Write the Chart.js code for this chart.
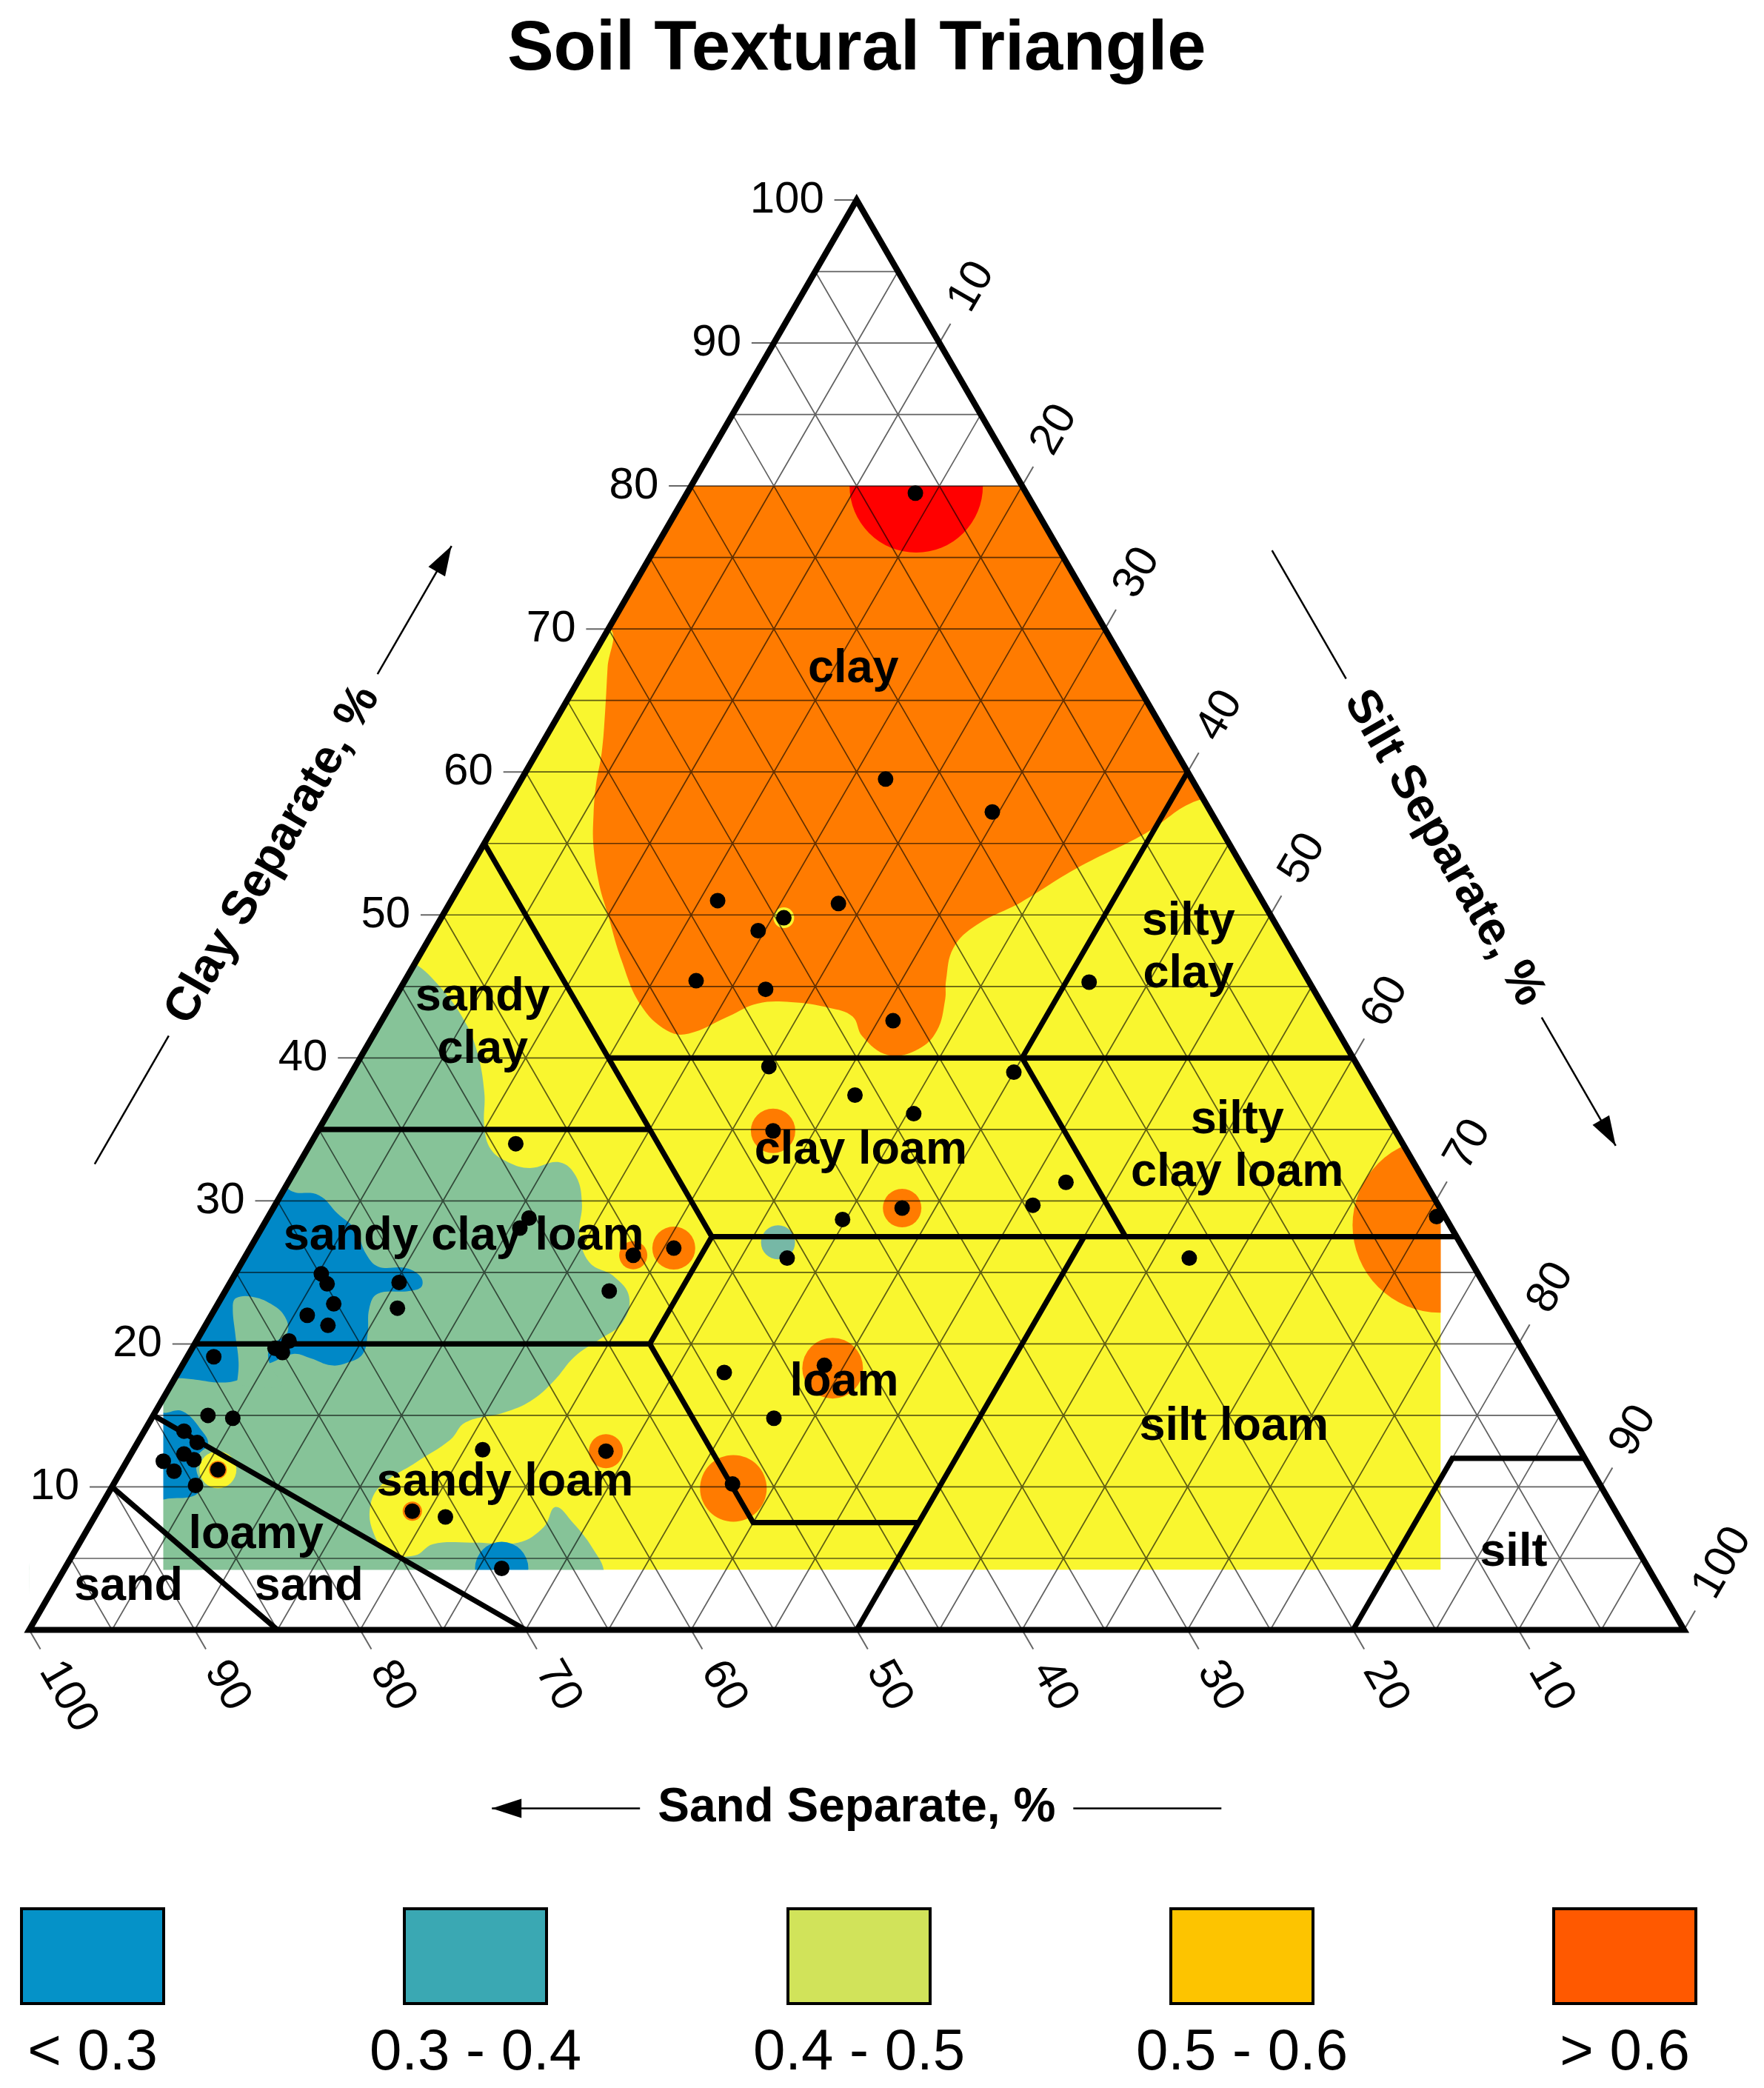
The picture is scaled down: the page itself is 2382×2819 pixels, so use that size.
<!DOCTYPE html>
<html>
<head>
<meta charset="utf-8">
<title>Soil Textural Triangle</title>
<script src="https://cdn.jsdelivr.net/npm/chart.js@4.4.1/dist/chart.umd.min.js"></script>
<style>
  body { margin: 0; background: #fff; }
  #wrap { position: relative; width: 2382px; height: 2819px; }
  #legend { position: absolute; left: 0; top: 2575px; width: 2382px; font-family: "Liberation Sans", Arial, sans-serif; }
  .item { position: absolute; top: 0; width: 300px; text-align: center; }
  .swatch { width: 188px; height: 124px; border: 4px solid #000; margin: 0 auto; }
  .item span { display: block; font-size: 78px; line-height: 1; margin-top: 21px; color: #000; }
</style>
</head>
<body>
<div id="wrap">
  <canvas id="triangle" width="2382" height="2819"></canvas>
  <div id="legend"></div>
</div>
<script>
// every point is [silt %, clay %]; sand is the rest up to 100
var sampleSilt = [13.8, 22.0, 29.6, 16.1, 23.5, 20.7, 19.6, 17.6, 22.1, 30.9, 41.4, 25.0, 40.0, 31.2, 35.4, 27.5, 12.4, 47.0, 45.8, 38.0,
                  34.8, 25.6, 23.4, 32.8, 23.2, 33.0, 38.8, 37.6, 28.6, 37.4, 57.1, 70.6, 15.8, 15.6, 5.2, 5.9, 10.2, 7.0, 5.8, 7.4,
                  11.0, 5.0, 5.6, 5.6, 1.6, 3.3, 4.9, 2.4, 3.6, 2.2, 3.2, 3.2, 4.0, 5.8, 5.0, 21.1, 19.0, 21.2, 26.4];
var sampleClay = [79.5, 59.5, 57.2, 51.0, 50.8, 49.8, 48.9, 45.4, 44.8, 42.6, 45.3, 39.4, 39.0, 37.4, 36.1, 34.9, 34.0, 31.3, 29.7, 29.5,
                  28.7, 26.7, 26.2, 26.0, 23.7, 18.0, 18.5, 14.8, 12.5, 10.2, 26.0, 28.9, 28.8, 28.1, 24.9, 24.2, 24.3, 22.8, 22.0, 21.3,
                  22.5, 19.7, 20.2, 19.4, 19.1, 15.0, 14.8, 13.9, 13.1, 11.8, 12.3, 11.1, 11.9, 11.2, 10.1, 12.6, 8.3, 7.9, 4.3];

var tickValues = [10, 20, 30, 40, 50, 60, 70, 80, 90, 100];
var gridLevels = [5, 10, 15, 20, 25, 30, 35, 40, 45, 50, 55, 60, 65, 70, 75, 80, 85, 90, 95];

// interpolated map, 0.4 - 0.5 band covers the sampled part of the triangle
var zoneMid = [[6.0, 4.2], [0, 16.2], [0, 80], [20, 80], [70.6, 29.4], [83.2, 4.2], [6.0, 4.2]];
// > 0.6 band in the clay corner
var zoneHigh = [[-12, 84], [-3, 70], [0.1, 70], [1.3, 67.3], [2.7, 64.2], [3.9, 61.4], [4.7, 59.1], [5.6, 57.0], [6.7, 54.8], [8.4, 52.1],
                [9.9, 50.1], [12.4, 46.8], [15.1, 43.7], [17.6, 41.9], [19.0, 41.7], [20.8, 42.9], [22.1, 43.8], [24.1, 43.9], [26.6, 43.5],
                [28.3, 42.9], [29.6, 41.5], [31.8, 40.2], [33.4, 40.6], [33.9, 41.9], [33.3, 44.1], [32.7, 45.4], [32.0, 47.7], [32.6, 49.3],
                [34.5, 50.9], [36.7, 53.3], [39.6, 55.7], [41.6, 58.0], [48, 60], [30, 84], [-12, 84]];
// 0.3 - 0.4 band on the sandy side
var zoneLow = [[-5, 49], [0, 46.6], [2.3, 45.0], [4.9, 42.7], [6.8, 40.5], [8.7, 37.6], [9.9, 35.2], [11.1, 33.6], [12.6, 32.7], [14.1, 32.3],
               [15.7, 32.7], [17.2, 31.7], [18.5, 29.8], [19.4, 27.7], [21.0, 25.7], [23.0, 24.7], [24.6, 23.3], [25.1, 21.5], [24.3, 20.3],
               [23.4, 19.1], [23.0, 17.4], [22.3, 16.0], [21.1, 15.2], [19.1, 14.5], [18.8, 13.3], [17.5, 11.7], [16.2, 10.1], [16.3, 8.6],
               [17.4, 6.8], [19.0, 5.4], [20.7, 5.2], [21.4, 6.0], [23.8, 6.1], [26.5, 6.1], [27.5, 7.2], [27.5, 8.6], [29.1, 7.5],
               [31.2, 5.7], [32.8, 3.9], [36, -3], [4, -3], [-6, 18], [-5, 49]];
var zoneLowTongue = [[4.0, 17.1], [3.3, 18.7], [2.1, 20.7], [1.0, 22.6], [0.9, 23.2], [1.8, 23.3], [3.2, 22.8], [4.5, 21.9], [5.2, 20.8],
                     [4.8, 20.1], [4.7, 19.5], [5.4, 18.4], [6.7, 17.1], [4.0, 17.1]];
// < 0.3 patches
var zoneLowest = [[-7, 36], [0.3, 30.8], [2.3, 30.4], [4.1, 29.1], [5.7, 28.0], [7.2, 26.3], [8.4, 25.4], [10.1, 25.3], [11.3, 24.7],
                  [11.7, 24.0], [11.1, 23.7], [9.3, 23.5], [9.3, 22.5], [10.1, 20.7], [10.5, 19.3], [9.9, 18.7], [9.0, 18.5], [7.5, 19.0],
                  [6.3, 19.3], [5.3, 18.7], [4.6, 18.3], [3.9, 17.5], [2.9, 17.3], [1.3, 17.5], [0.3, 17.6], [-4, 17.6], [-7, 36]];
var zoneLowestSand = [[-0.7, 15.8], [0.4, 15.2], [1.6, 15.3], [3.5, 13.9], [4.3, 13.0], [4.1, 12.2], [4.5, 11.2], [5.3, 10.1], [5.3, 9.4],
                      [3.9, 9.2], [2.6, 9.2], [-0.7, 15.8]];

// small spots round single samples
var spotsHigh = [[27.5, 34.9], [38.0, 29.5], [25.6, 26.7], [23.4, 26.2], [39.4, 18.3], [37.6, 9.9], [28.6, 12.5], [19.0, 8.3], [5.8, 11.2], [71.1, 28.3]];
var spotsTop = [[13.6, 80]];
var spotsMid = [[5.8, 11.2], [20.7, 49.8]];
var spotsLow = [[31.7, 27.1]];
var spotsLowest = [[26.4, 4.3]];

// USDA class borders
var classBorders = [
  [[15, 0], [0, 10]],
  [[30, 0], [0, 15]],
  [[0, 20], [27.5, 20]],
  [[27.5, 27.5], [27.5, 20], [40, 7.5], [50, 7.5]],
  [[50, 27.5], [50, 0]],
  [[80, 0], [80, 12], [88, 12]],
  [[27.5, 27.5], [72.5, 27.5]],
  [[0, 35], [20, 35]],
  [[0, 55], [27.5, 27.5]],
  [[15, 40], [60, 40]],
  [[40, 40], [52.5, 27.5]],
  [[40, 40], [40, 60]]
];
var classNames = ['clay', 'silty\nclay', 'sandy\nclay', 'silty\nclay loam', 'clay loam', 'sandy clay loam', 'loam', 'silt loam', 'sandy loam', 'loamy', 'sand', 'sand', 'silt'];
var classSilt = [16.2, 46.2, 6.2, 56.1, 33.5, 12.5, 40.6, 65.7, 23.6, 10.4, 15.4, 4.5, 87.0];
var classClay = [67.2, 47.7, 42.4, 33.8, 33.5, 27.5, 17.3, 14.2, 10.3, 6.6, 3.0, 3.0, 5.4];

var legendLabels = ['< 0.3', '0.3 - 0.4', '0.4 - 0.5', '0.5 - 0.6', '> 0.6'];
var legendColors = ['#0592c8', '#3aa8b3', '#d1e35a', '#fdc400', '#ff5900'];

var FONT = '"Liberation Sans", Arial, Helvetica, sans-serif';
var tickLen = 1.35;

function tp(silt, clay) {
    return { x: silt + clay / 2, y: clay };
}
function poly(pairs) {
    return pairs.map(function (p) { return tp(p[0], p[1]); });
}
function segs(lines) {
    var out = [];
    lines.forEach(function (l, i) {
        if (i) out.push({ x: null, y: null });
        l.forEach(function (p) { out.push(tp(p[0], p[1])); });
    });
    return out;
}
function area(pairs, color, tension) {
    return { data: poly(pairs), showLine: true, fill: 'shape', backgroundColor: color, borderWidth: 0, pointRadius: 0, tension: tension };
}
function spots(pairs, sizes, color) {
    return { data: poly(pairs), showLine: false, pointRadius: sizes, pointHoverRadius: sizes, pointBackgroundColor: color, pointBorderWidth: 0 };
}
function strokes(lines, color, width, clip) {
    var d = { data: segs(lines), showLine: true, fill: false, borderColor: color, borderWidth: width, pointRadius: 0, tension: 0, spanGaps: false };
    if (clip === false) d.clip = false;
    return d;
}

var gridLines = [], tickLines = [];
gridLevels.forEach(function (k) {
    gridLines.push([[0, k], [100 - k, k]]);
    gridLines.push([[k, 0], [k, 100 - k]]);
    gridLines.push([[100 - k, 0], [0, 100 - k]]);
});
tickValues.forEach(function (v) {
    tickLines.push([[0, v], [-tickLen, v]]);
    tickLines.push([[v, 100 - v], [v, 100 - v + tickLen]]);
    tickLines.push([[100 - v, 0], [100 - v + tickLen, -tickLen]]);
});

// white cover outside the mapped area
var masks = [
    [[-10, -20], [18.1, -20], [0, 16.2], [0, 100], [-10, 120], [-80, 120], [-10, -20]],
    [[95.3, -20], [130, -20], [60, 120], [-10, 120], [0, 100], [70.6, 29.4], [95.3, -20]],
    [[-60, 80], [80, 80], [60, 120], [-80, 120], [-60, 80]],
    [[-22.1, 4.2], [117.9, 4.2], [130, -20], [-10, -20], [-22.1, 4.2]]
];

var layers = [
    area(zoneMid, '#f9f62f', 0),
    area(zoneHigh, '#ff7b00', 0.4),
    area(zoneLow, '#86c398', 0.4),
    area(zoneLowest, '#0088c7', 0.4),
    area(zoneLowTongue, '#86c398', 0.4),
    area(zoneLowestSand, '#0088c7', 0.4),
    spots(spotsLow, [23], '#76b8a6'),
    spots(spotsLowest, [36], '#0088c7'),
    spots(spotsMid, [25, 14], '#f9f62f'),
    spots(spotsHigh, [30, 26, 29, 19, 41, 45, 23, 13, 12, 118], '#ff7b00'),
    spots(spotsTop, [90], '#ff0000')
];
masks.forEach(function (m) { layers.push(area(m, '#ffffff', 0)); });
layers.push(strokes(gridLines, 'rgba(0,0,0,0.62)', 1.7));
layers.push(strokes(tickLines, 'rgba(0,0,0,0.6)', 2, false));
layers.push(strokes(classBorders, '#000', 7.2, false));
layers.push(strokes([[[50, 0], [100, 0], [0, 100], [0, 0], [50, 0]]], '#000', 8.2, false));
layers.push({
    data: sampleSilt.map(function (s, i) { return tp(s, sampleClay[i]); }),
    showLine: false, pointRadius: 10.5, pointHoverRadius: 10.5, pointBackgroundColor: '#000', pointBorderWidth: 0
});
layers.forEach(function (d, i) { d.order = layers.length - i; });

var labelPlugin = {
    id: 'triangleLabels',
    afterDatasetsDraw: function (chart) {
        var ctx = chart.ctx, sx = chart.scales.x, sy = chart.scales.y;
        var c60 = 0.5, s60 = Math.sqrt(3) / 2;
        function at(s, c) { return [sx.getPixelForValue(s + c / 2), sy.getPixelForValue(c)]; }
        function turned(text, x, y, angle, align) {
            ctx.save();
            ctx.translate(x, y);
            ctx.rotate(angle);
            ctx.textAlign = align;
            ctx.fillText(text, 0, 0);
            ctx.restore();
        }
        ctx.save();
        ctx.fillStyle = '#000';
        ctx.textBaseline = 'middle';

        ctx.font = '60px ' + FONT;
        tickValues.forEach(function (v) {
            var p = at(0, v);
            ctx.textAlign = 'right';
            ctx.fillText(String(v), p[0] - 44, p[1]);
            p = at(v, 100 - v);
            turned(String(v), p[0] + 54 * c60, p[1] - 54 * s60, -Math.PI / 3, 'left');
            p = at(100 - v, 0);
            turned(String(v), p[0] + 54 * c60, p[1] + 54 * s60, Math.PI / 3, 'left');
        });

        ctx.font = 'bold 63px ' + FONT;
        ctx.textAlign = 'center';
        classNames.forEach(function (name, i) {
            var p = at(classSilt[i], classClay[i]);
            var rows = name.split('\n');
            rows.forEach(function (t, j) {
                ctx.fillText(t, p[0], p[1] + (j - (rows.length - 1) / 2) * 71);
            });
        });

        ctx.font = 'bold 64px ' + FONT;
        ctx.strokeStyle = '#000';
        ctx.lineWidth = 2.5;
        function axisTitle(text, cx, cy, angle, arrowForward) {
            var dx = Math.cos(angle), dy = Math.sin(angle);
            var half = ctx.measureText(text).width / 2;
            turned(text, cx, cy, angle, 'center');
            [1, -1].forEach(function (sign) {
                var a = half + 24, b = half + 24 + 200;
                var x1 = cx + sign * a * dx, y1 = cy + sign * a * dy;
                var x2 = cx + sign * b * dx, y2 = cy + sign * b * dy;
                ctx.beginPath();
                ctx.moveTo(x1, y1);
                ctx.lineTo(x2, y2);
                ctx.stroke();
                if ((sign === 1) === arrowForward) {
                    var ux = sign * dx, uy = sign * dy;
                    ctx.beginPath();
                    ctx.moveTo(x2, y2);
                    ctx.lineTo(x2 - ux * 40 - uy * 13, y2 - uy * 40 + ux * 13);
                    ctx.lineTo(x2 - ux * 40 + uy * 13, y2 - uy * 40 - ux * 13);
                    ctx.closePath();
                    ctx.fill();
                }
            });
        }
        var p = at(0, 48);
        axisTitle('Clay Separate, %', p[0] - 239 * s60, p[1] - 239 * c60, -Math.PI / 3, true);
        p = at(51.75, 48.25);
        axisTitle('Silt Separate, %', p[0] + 248 * s60, p[1] - 248 * c60, Math.PI / 3, true);
        p = at(50, 0);
        axisTitle('Sand Separate, %', p[0], p[1] + 241, 0, false);
        ctx.restore();
    }
};

var chart = new Chart(document.getElementById('triangle').getContext('2d'), {
    type: 'scatter',
    data: { datasets: layers },
    options: {
        responsive: false,
        animation: false,
        devicePixelRatio: 1,
        events: [],
        layout: { autoPadding: false, padding: { left: 39.5, right: 108, top: 0, bottom: 618.5 } },
        scales: {
            x: { type: 'linear', min: 0, max: 100, display: false },
            y: { type: 'linear', min: 0, max: 100, display: false }
        },
        plugins: {
            legend: { display: false },
            tooltip: { enabled: false },
            title: {
                display: true,
                text: 'Soil Textural Triangle',
                color: '#000',
                font: { family: FONT, size: 94, weight: 'bold', lineHeight: 1.2 },
                padding: { top: 12, bottom: 145.2 }
            }
        }
    },
    plugins: [labelPlugin]
});

var legend = document.getElementById('legend');
var centres = [125, 642, 1160, 1677, 2194];
legendLabels.forEach(function (t, i) {
    var item = document.createElement('div');
    item.className = 'item';
    item.style.left = (centres[i] - 150) + 'px';
    var sw = document.createElement('div');
    sw.className = 'swatch';
    sw.style.background = legendColors[i];
    var lab = document.createElement('span');
    lab.textContent = t;
    item.appendChild(sw);
    item.appendChild(lab);
    legend.appendChild(item);
});
</script>
</body>
</html>
